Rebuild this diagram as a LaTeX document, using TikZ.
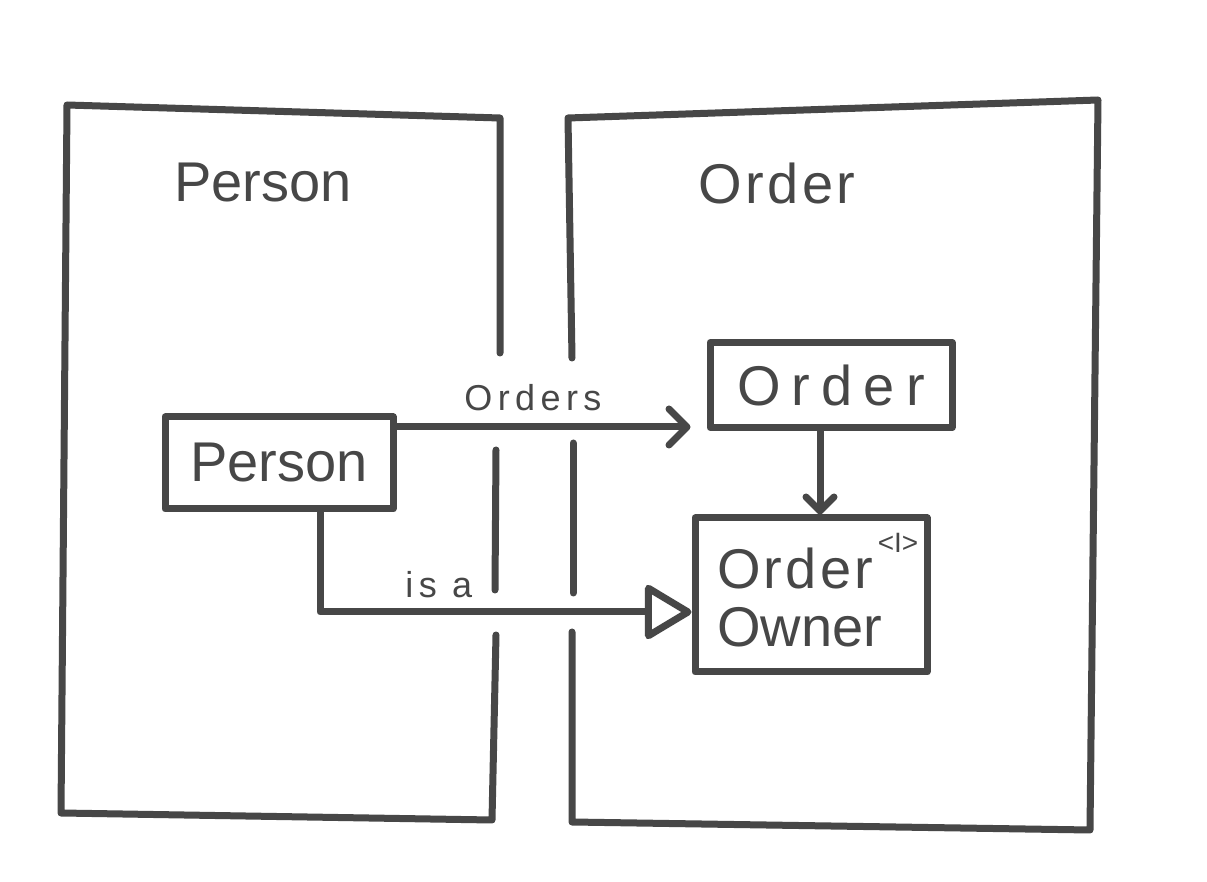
\documentclass[tikz,border=0pt]{standalone}
\usepackage{fontspec}
\setmainfont{Liberation Sans}
\usetikzlibrary{arrows.meta}
\definecolor{ink}{HTML}{474747}

\begin{document}
\begin{tikzpicture}[x=0.5pt,y=-0.5pt,
  inkline/.style={draw=ink, line width=3.5pt, line cap=round, line join=round},
  box/.style={inkline, rectangle, inner sep=0pt},
  lbl/.style={text=ink, font=\fontsize{28}{30}\selectfont},
  loose/.style={text=ink, font=\fontsize{28}{30}\selectfont\addfontfeatures{LetterSpace=6}},
  wide/.style={text=ink, font=\fontsize{28}{30}\selectfont\addfontfeatures{LetterSpace=20}},
  small/.style={text=ink, font=\fontsize{18}{20}\selectfont\addfontfeatures{LetterSpace=15}},
  barb/.style={-{Straight Barb[length=#1, width=2*#1, round]}},
]
\useasboundingbox[fill=white] (0,0) rectangle (1207,882);

% context boundaries, each with gaps where the relations cross
\draw[inkline] (500,353) -- (500,118) -- (67,105) -- (61,813) -- (492,820) -- (496,635);
\draw[inkline] (496,450) -- (495,590);
\draw[inkline] (572,358) -- (568,118) -- (1098,100) -- (1090,830) -- (572,822) -- (572,632);
\draw[inkline] (573,443) -- (573,593);

% context titles
\node[lbl] (ptitle) at (263,183) {Person};
\node[loose] (otitle) at (777,183) {Order};

% entities
\node[box, lbl, minimum width=114pt, minimum height=46pt] (person) at (279,463) {Person};
\node[box, wide, minimum width=121pt, minimum height=42.5pt] (order) at (831,385) {Order};
\node[box, minimum width=116pt, minimum height=77pt] (owner) at (811,595) {};
\node[loose, anchor=west] (ownerA) at (710,568) {Order};
\node[lbl, anchor=west] (ownerB) at (710,627) {Owner};
\node[text=ink, font=\fontsize{14}{15}\selectfont] (tag) at (898,543) {<I>};

% relations
\coordinate (ordersy) at (0,427);
\draw[inkline, barb=9pt, shorten >=8pt]
  (person.east |- ordersy) -- node[small, pos=0.44, above=3pt] (orderslbl) {Orders} (order.west |- ordersy);

\coordinate (downx) at (820,0);
\draw[inkline, barb=7pt] (order.south -| downx) -- (owner.north -| downx);

\coordinate (isax) at (320,0);
\coordinate (isay) at (0,612);
\draw[inkline, -{Triangle[open, length=25pt, width=29pt, round]}]
  (person.south -| isax) |- node[small, pos=0.66, above=2pt] (isalbl) {is a} (owner.west |- isay);
\end{tikzpicture}
\end{document}
